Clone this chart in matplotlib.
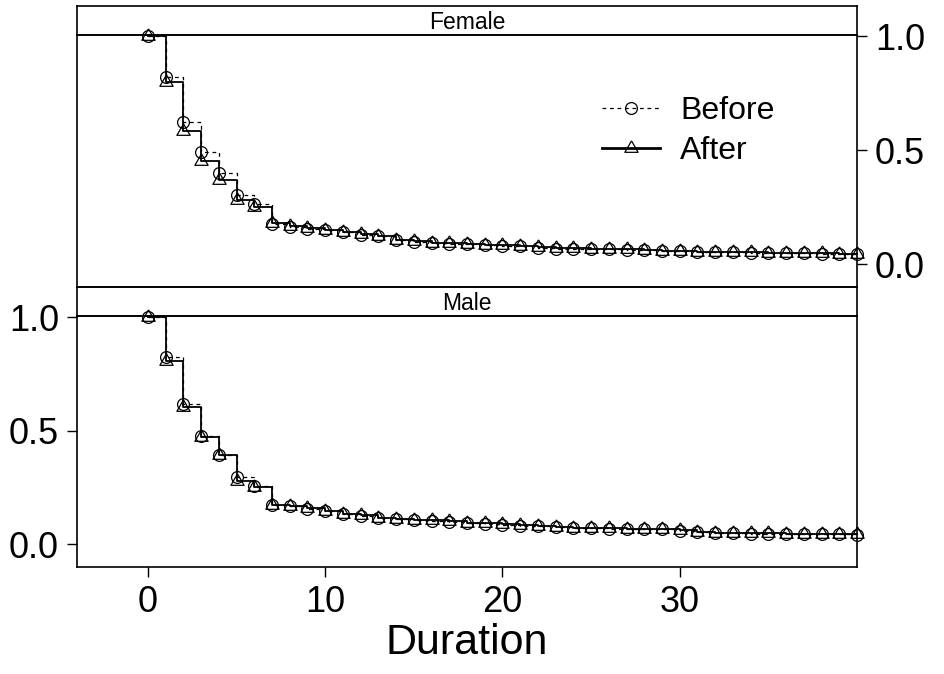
import matplotlib
matplotlib.use("Agg")
import matplotlib.pyplot as plt

plt.rcParams['font.family'] = ['Liberation Sans', 'DejaVu Sans']

# Data
duration = list(range(0, 41))

female_before = [1.000, 0.820, 0.622, 0.490, 0.400, 0.305, 0.264, 0.177, 0.162, 0.156,
                 0.150, 0.141, 0.129, 0.122, 0.106, 0.099, 0.093, 0.090, 0.087, 0.084,
                 0.080, 0.078, 0.072, 0.068, 0.068, 0.065, 0.065, 0.063, 0.062, 0.058,
                 0.058, 0.053, 0.053, 0.052, 0.050, 0.049, 0.047, 0.047, 0.046, 0.044,
                 0.043]
female_after = [1.000, 0.798, 0.585, 0.453, 0.367, 0.282, 0.252, 0.180, 0.166, 0.158,
                0.152, 0.143, 0.133, 0.124, 0.108, 0.101, 0.095, 0.092, 0.089, 0.086,
                0.082, 0.080, 0.074, 0.070, 0.070, 0.067, 0.067, 0.065, 0.064, 0.060,
                0.060, 0.055, 0.055, 0.054, 0.052, 0.051, 0.049, 0.049, 0.048, 0.046,
                0.045]

male_before = [1.000, 0.826, 0.618, 0.475, 0.392, 0.295, 0.256, 0.174, 0.167, 0.157,
               0.145, 0.134, 0.126, 0.116, 0.112, 0.107, 0.104, 0.100, 0.094, 0.091,
               0.087, 0.082, 0.079, 0.075, 0.072, 0.071, 0.069, 0.068, 0.068, 0.066,
               0.060, 0.053, 0.050, 0.049, 0.047, 0.047, 0.046, 0.046, 0.044, 0.044,
               0.043]
male_after = [1.000, 0.806, 0.604, 0.472, 0.392, 0.278, 0.251, 0.175, 0.168, 0.158,
              0.146, 0.135, 0.127, 0.117, 0.113, 0.108, 0.105, 0.101, 0.095, 0.092,
              0.088, 0.083, 0.080, 0.076, 0.073, 0.072, 0.070, 0.069, 0.069, 0.067,
              0.061, 0.054, 0.051, 0.050, 0.048, 0.048, 0.047, 0.047, 0.045, 0.045,
              0.044]

panels = [("Female", female_before, female_after),
          ("Male", male_before, male_after)]

x_ticks = [0, 10, 20, 30]
y_ticks = [0.0, 0.5, 1.0]
y_labels = ["0.0", "0.5", "1.0"]

# triangle centred on its centroid, like R's pch = 2
tri = [(0, 1), (-0.866, -0.5), (0.866, -0.5), (0, 1)]

fig = plt.figure(figsize=(9.44, 6.74), dpi=100)

W, H = 944, 674
left, right = 77, 857
# (strip top, strip bottom, panel bottom) in pixels from the top
layout = [(6, 35, 287), (287, 316, 567)]


def fbox(x0, x1, ytop, ybot):
    return [x0 / W, 1 - ybot / H, (x1 - x0) / W, (ybot - ytop) / H]


for i, ((name, before, after), (s_top, s_bot, p_bot)) in enumerate(zip(panels, layout)):
    strip = fig.add_axes(fbox(left, right, s_top, s_bot))
    strip.set_xticks([])
    strip.set_yticks([])
    strip.text(0.5, 0.42, name, ha="center", va="center", fontsize=16.5,
               transform=strip.transAxes)
    for sp in strip.spines.values():
        sp.set_linewidth(1.2)

    ax = fig.add_axes(fbox(left, right, s_bot, p_bot))
    ax.set_facecolor("none")
    ax.set_zorder(3)

    ax.plot(duration, before, drawstyle="steps-post", color="black", lw=0.9,
            dashes=(3, 3), marker="o", ms=8.5, mfc="none", mec="black", mew=0.9,
            label="Before", clip_on=False)
    ax.plot(duration, after, drawstyle="steps-post", color="black", lw=1.3,
            marker=tri, ms=11, mfc="none", mec="black", mew=0.9,
            label="After", clip_on=False)

    ax.set_xlim(-4, 40)
    ax.set_ylim(-0.1, 1.005)
    ax.set_yticks(y_ticks)
    ax.set_yticklabels(y_labels)
    ax.tick_params(axis="both", labelsize=26, length=7, width=1, direction="out",
                   pad=6)
    for sp in ax.spines.values():
        sp.set_linewidth(1.2)

    if i == 0:
        ax.yaxis.tick_right()
        ax.set_xticks([])
        leg = ax.legend(loc="center left", bbox_to_anchor=(602 / W, 1 - 131 / H),
                        bbox_transform=fig.transFigure, frameon=False, fontsize=23,
                        handlelength=1.82, handletextpad=0.63, labelspacing=0.3,
                        borderpad=0, borderaxespad=0, numpoints=1)
        leg.get_lines()[1].set_linewidth(2)
    else:
        ax.yaxis.tick_left()
        ax.set_xticks(x_ticks)
        ax.set_xticklabels([str(t) for t in x_ticks])
        ax.set_xlabel("Duration", fontsize=31, labelpad=2)

fig.savefig("out.png", dpi=100)
